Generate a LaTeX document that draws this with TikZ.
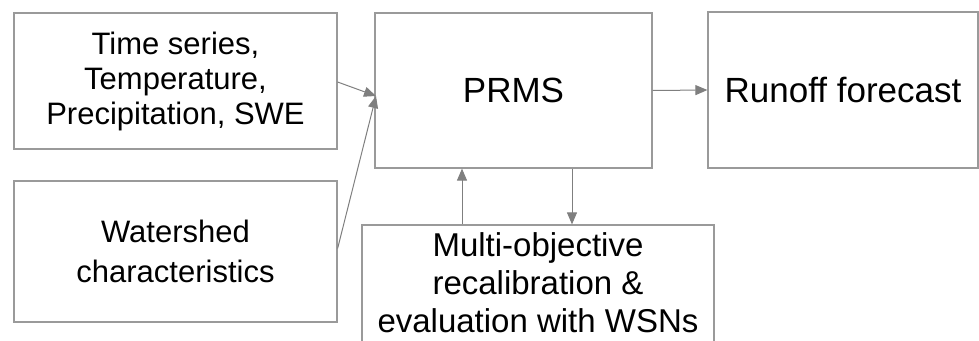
\documentclass[tikz,border=0pt]{standalone}
\usepackage{fontspec}
\setmainfont{Liberation Sans}
\usetikzlibrary{arrows.meta}
\definecolor{boxgray}{HTML}{9A9A9A}
\definecolor{arrgray}{HTML}{7F7F7F}
\tikzset{
  box/.style={draw=boxgray, line width=1.2pt, align=center, inner sep=0pt, text=black},
  conn/.style={draw=arrgray, line width=1pt, -{Triangle[length=12pt,width=10pt]}},
}
\begin{document}
\begin{tikzpicture}[x=1pt,y=-1pt]
\useasboundingbox (0,0) rectangle (979,340);
\clip (0,0) rectangle (979,340);
\node[box, minimum width=323pt, minimum height=136pt, font=\fontsize{31}{35}\selectfont] (ts) at (175.5,81) {Time series,\\Temperature,\\Precipitation, SWE};
\node[box, minimum width=323pt, minimum height=141pt, font=\fontsize{31}{40}\selectfont] (ws) at (175.5,251.5) {Watershed\\characteristics};
\node[box, minimum width=277pt, minimum height=155pt, font=\fontsize{35}{40}\selectfont] (prms) at (513.5,90.5) {PRMS};
\node[box, minimum width=270pt, minimum height=156pt, font=\fontsize{35}{40}\selectfont] (ro) at (843,90) {Runoff forecast};
\node[box, minimum width=352pt, minimum height=126pt, font=\fontsize{33}{38}\selectfont] (mo) at (538,288) {};
\node[font=\fontsize{33}{38}\selectfont, align=center, inner sep=0pt] (motext) at (538,283) {Multi-objective\\recalibration \&\\evaluation with WSNs};
\coordinate (pin) at (376,96);
\draw[conn] (ts.east) ++(0,1) -- (pin);
\draw[conn] (ws.east) ++(0,-3) -- (pin);
\draw[conn] (prms.east) -- (ro.west);
\draw[conn] (mo.north -| 462,0) -- (prms.south -| 462,0);
\draw[conn] (prms.south -| 572,0) -- (mo.north -| 572,0);
\end{tikzpicture}
\end{document}
